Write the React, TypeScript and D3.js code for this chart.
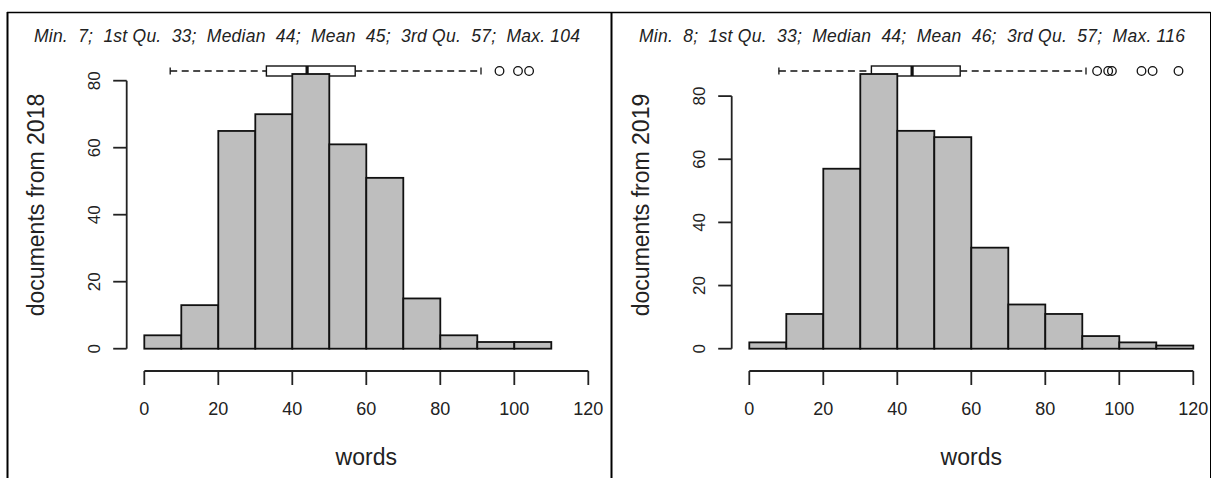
import React from 'react'
import * as d3 from 'd3'

// histogram bins (width 10 words)
const binStarts = [0, 10, 20, 30, 40, 50, 60, 70, 80, 90, 100, 110]
const counts2018 = [4, 13, 65, 70, 82, 61, 51, 15, 4, 2, 2]
const counts2019 = [2, 11, 57, 87, 69, 67, 32, 14, 11, 4, 2, 1]

const xTicks = [0, 20, 40, 60, 80, 100, 120]
const yTicks = [0, 20, 40, 60, 80]

// five number summaries shown above each histogram
const summary2018 = { min: 7, q1: 33, median: 44, mean: 45, q3: 57, max: 104, whiskerHi: 91 }
const summary2019 = { min: 8, q1: 33, median: 44, mean: 46, q3: 57, max: 116, whiskerHi: 91 }
const outliers2018 = [96, 101, 104]
const outliers2019 = [94, 97, 98, 106, 109, 116]

const years = ['2018', '2019']

const FONT = 'Liberation Sans, Arial, sans-serif'

function Panel({ dx, year, counts, s, outliers }) {
  const x = d3.scaleLinear().domain([0, 120]).range([144.3 + dx, 588.3 + dx])
  const y = d3.scaleLinear().domain([0, d3.max(counts)]).range([348.7, 74])
  const axisX = 126.7 + dx
  const axisY = 371
  const boxY = 71
  const label = 'Min.  ' + s.min + ';  1st Qu.  ' + s.q1 + ';  Median  ' + s.median +
    ';  Mean  ' + s.mean + ';  3rd Qu.  ' + s.q3 + ';  Max. ' + s.max

  return (
    <g>
      {/* summary line */}
      <text x={34 + dx} y={42} fontFamily={FONT} fontStyle="italic" fontSize={17.5}
        fill="#222" textLength={546} lengthAdjust="spacing" style={{ whiteSpace: 'pre' }}>
        {label}
      </text>

      {/* horizontal boxplot */}
      <g stroke="#111" fill="none">
        <line x1={x(s.min)} x2={x(s.q1)} y1={boxY} y2={boxY} strokeDasharray="7,4.5" strokeWidth={1.3} />
        <line x1={x(s.q3)} x2={x(s.whiskerHi)} y1={boxY} y2={boxY} strokeDasharray="7,4.5" strokeWidth={1.3} />
        <line x1={x(s.min)} x2={x(s.min)} y1={boxY - 3.5} y2={boxY + 3.5} strokeWidth={1.3} />
        <line x1={x(s.whiskerHi)} x2={x(s.whiskerHi)} y1={boxY - 3.5} y2={boxY + 3.5} strokeWidth={1.3} />
        <rect x={x(s.q1)} y={boxY - 5} width={x(s.q3) - x(s.q1)} height={10} fill="#fff" strokeWidth={1.4} />
        <line x1={x(s.median)} x2={x(s.median)} y1={boxY - 5} y2={boxY + 5} strokeWidth={3.2} />
        {outliers.map((o, i) => (
          <circle key={i} cx={x(o)} cy={boxY} r={4.3} strokeWidth={1.3} />
        ))}
      </g>

      {/* bars */}
      {counts.map((c, i) => (
        <rect key={i} x={x(binStarts[i])} y={y(c)} width={x(binStarts[i] + 10) - x(binStarts[i])}
          height={y(0) - y(c)} fill="#bebebe" stroke="#111" strokeWidth={1.8} />
      ))}

      {/* y axis */}
      <g stroke="#222" strokeWidth={1.8}>
        <line x1={axisX} x2={axisX} y1={y(0)} y2={y(80)} />
        {yTicks.map(t => <line key={t} x1={axisX - 13.5} x2={axisX} y1={y(t)} y2={y(t)} />)}
      </g>
      {yTicks.map(t => (
        <text key={t} transform={`translate(${axisX - 27},${y(t)}) rotate(-90)`} textAnchor="middle"
          fontFamily={FONT} fontSize={17} fill="#222">{t}</text>
      ))}

      {/* x axis */}
      <g stroke="#222" strokeWidth={1.8}>
        <line x1={x(0)} x2={x(120)} y1={axisY} y2={axisY} />
        {xTicks.map(t => <line key={t} x1={x(t)} x2={x(t)} y1={axisY} y2={axisY + 14} />)}
      </g>
      {xTicks.map(t => (
        <text key={t} x={x(t)} y={415} textAnchor="middle" fontFamily={FONT} fontSize={18} fill="#222">{t}</text>
      ))}

      {/* axis titles */}
      <text x={(x(0) + x(120)) / 2} y={465} textAnchor="middle" fontFamily={FONT} fontSize={23} fill="#222">words</text>
      <text transform={`translate(${44 + dx},${205}) rotate(-90)`} textAnchor="middle"
        fontFamily={FONT} fontSize={23} fill="#222">{'documents from ' + year}</text>
    </g>
  )
}

export default function App() {
  return (
    <div style={{ position: 'absolute', left: 0, top: 0 }}>
      <svg width={1212} height={478} style={{ display: 'block', background: '#fff' }}>
        <rect width={1212} height={478} fill="#fff" />
        {/* frame of the two cells */}
        <g stroke="#000">
          <line x1={7} x2={1210.5} y1={12.5} y2={12.5} strokeWidth={1.5} />
          <line x1={7.5} x2={7.5} y1={12} y2={478} strokeWidth={2} />
          <line x1={611.5} x2={611.5} y1={12} y2={478} strokeWidth={2} />
          <line x1={1210.5} x2={1210.5} y1={12} y2={478} strokeWidth={1} />
        </g>
        <Panel dx={0} year={years[0]} counts={counts2018} s={summary2018} outliers={outliers2018} />
        <Panel dx={605} year={years[1]} counts={counts2019} s={summary2019} outliers={outliers2019} />
      </svg>
    </div>
  )
}
